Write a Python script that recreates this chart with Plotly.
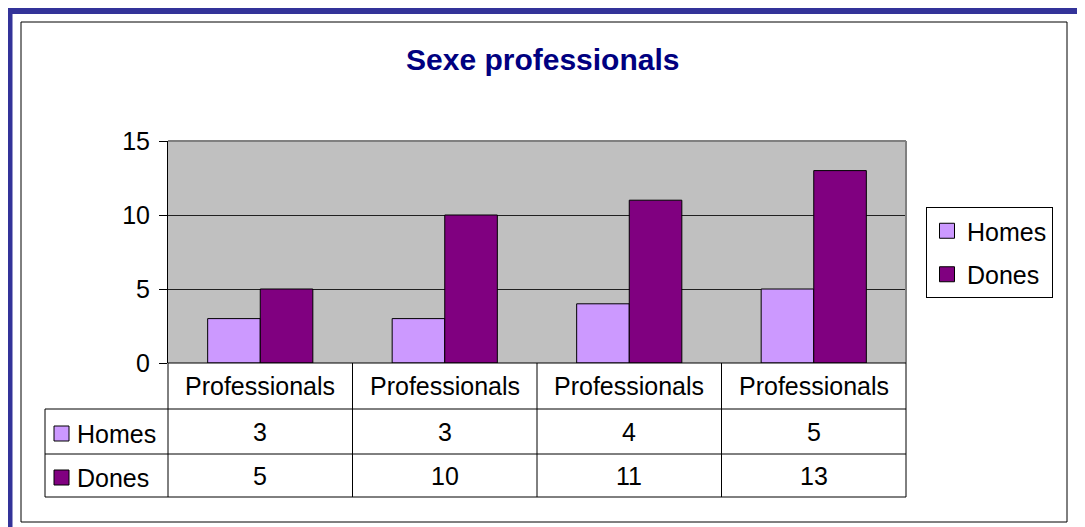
import plotly.graph_objects as go

# data
categories = ["Professionals", "Professionals", "Professionals", "Professionals"]
series_names = ["Homes", "Dones"]
homes = [3, 3, 4, 5]
dones = [5, 10, 11, 13]
colors = ["#CC99FF", "#800080"]

W, H = 1085, 527
OFF = 8  # the page body has an 8px margin, shift everything back by that

def px(x):
    return (x - OFF) / W

def py(y):
    return 1 - (y - OFF) / H

# plot area in pixels (screen coords of the reference)
left, right, top, bottom = 168, 906, 141, 363
font = "Liberation Sans, Arial, sans-serif"

xpos = list(range(len(categories)))

fig = go.Figure()

for name, vals, col in zip(series_names, [homes, dones], colors):
    fig.add_trace(
        go.Bar(
            x=xpos,
            y=vals,
            name=name,
            legendgroup=name,
            showlegend=False,
            marker=dict(color=col, line=dict(color="black", width=1)),
        )
    )
    # legend entry with a bigger square key, like the excel legend
    fig.add_trace(
        go.Scatter(
            x=[None],
            y=[None],
            mode="markers",
            name=name,
            legendgroup=name,
            marker=dict(symbol="square", size=15, color=col, line=dict(color="black", width=1)),
        )
    )

fig.update_layout(
    template="none",
    width=W,
    height=H,
    margin=dict(l=0, r=0, t=0, b=0, pad=0, autoexpand=False),
    paper_bgcolor="white",
    plot_bgcolor="#C0C0C0",
    barmode="group",
    bargap=0.43,
    bargroupgap=0,
    font=dict(family=font, size=25, color="black"),
    showlegend=True,
    legend=dict(
        x=px(926),
        y=py(207),
        xanchor="left",
        yanchor="top",
        bgcolor="white",
        bordercolor="black",
        borderwidth=1,
        font=dict(size=25),
        traceorder="grouped",
        tracegroupgap=8,
        itemwidth=30,
    ),
)

fig.update_xaxes(
    domain=[px(left), px(right)],
    range=[-0.5, len(categories) - 0.5],
    showticklabels=False,
    showgrid=False,
    zeroline=False,
    showline=False,
    ticks="",
    automargin=False,
)

fig.update_yaxes(
    domain=[py(bottom), py(top)],
    range=[0, 15],
    dtick=5,
    showgrid=True,
    gridcolor="#202020",
    gridwidth=1,
    zeroline=False,
    showline=True,
    linecolor="black",
    linewidth=1,
    ticks="outside",
    ticklen=8,
    tickcolor="black",
    ticklabelstandoff=4,
    tickfont=dict(size=25),
    automargin=False,
)

shapes = []

# outer blue frame and inner black border
shapes.append(dict(type="rect", xref="paper", yref="paper",
                   x0=px(9.5), x1=px(1080), y0=py(531), y1=py(11),
                   line=dict(color="#333399", width=6)))
shapes.append(dict(type="rect", xref="paper", yref="paper",
                   x0=px(21), x1=px(1067), y0=py(522), y1=py(22),
                   line=dict(color="black", width=1)))

# plot area border top / right (gray)
shapes.append(dict(type="line", xref="paper", yref="paper",
                   x0=px(left), x1=px(right), y0=py(top), y1=py(top),
                   line=dict(color="#808080", width=2)))
shapes.append(dict(type="line", xref="paper", yref="paper",
                   x0=px(right), x1=px(right), y0=py(top), y1=py(bottom),
                   line=dict(color="#808080", width=2)))

# data table
row_y = [363, 409, 454, 497]
key_left = 45
col_w = (right - left) / len(categories)
col_x = [left + i * col_w for i in range(len(categories) + 1)]

shapes.append(dict(type="line", xref="paper", yref="paper",
                   x0=px(left), x1=px(right), y0=py(row_y[0]), y1=py(row_y[0]),
                   line=dict(color="black", width=1)))
for yy in row_y[1:]:
    shapes.append(dict(type="line", xref="paper", yref="paper",
                       x0=px(key_left), x1=px(right), y0=py(yy), y1=py(yy),
                       line=dict(color="black", width=1)))
for xx in col_x:
    shapes.append(dict(type="line", xref="paper", yref="paper",
                       x0=px(xx), x1=px(xx), y0=py(row_y[0]), y1=py(row_y[-1]),
                       line=dict(color="black", width=1)))
shapes.append(dict(type="line", xref="paper", yref="paper",
                   x0=px(key_left), x1=px(key_left), y0=py(row_y[1]), y1=py(row_y[-1]),
                   line=dict(color="black", width=1)))

annotations = []

# header row (categories)
for i, cat in enumerate(categories):
    annotations.append(dict(x=xpos[i], y=py((row_y[0] + row_y[1]) / 2), xref="x", yref="paper",
                            text=cat, showarrow=False, font=dict(size=25),
                            xanchor="center", yanchor="middle"))

# series rows
for r, (name, vals, col) in enumerate(zip(series_names, [homes, dones], colors)):
    yc = (row_y[r + 1] + row_y[r + 2]) / 2
    shapes.append(dict(type="rect", xref="paper", yref="paper",
                       x0=px(54), x1=px(69), y0=py(yc + 9.5), y1=py(yc - 5.5),
                       fillcolor=col, line=dict(color="black", width=1)))
    annotations.append(dict(x=px(75), y=py(yc + 2), xref="paper", yref="paper",
                            text=name, showarrow=False, font=dict(size=25),
                            xanchor="left", yanchor="middle"))
    for i, v in enumerate(vals):
        annotations.append(dict(x=xpos[i], y=py(yc), xref="x", yref="paper",
                                text=str(v), showarrow=False, font=dict(size=25),
                                xanchor="center", yanchor="middle"))

# title
annotations.append(dict(x=px(542), y=py(60), xref="paper", yref="paper",
                        text="<b>Sexe professionals</b>", showarrow=False,
                        font=dict(size=30, color="#000080"),
                        xanchor="center", yanchor="middle"))

fig.update_layout(shapes=shapes, annotations=annotations)

fig.write_html("out.html")
